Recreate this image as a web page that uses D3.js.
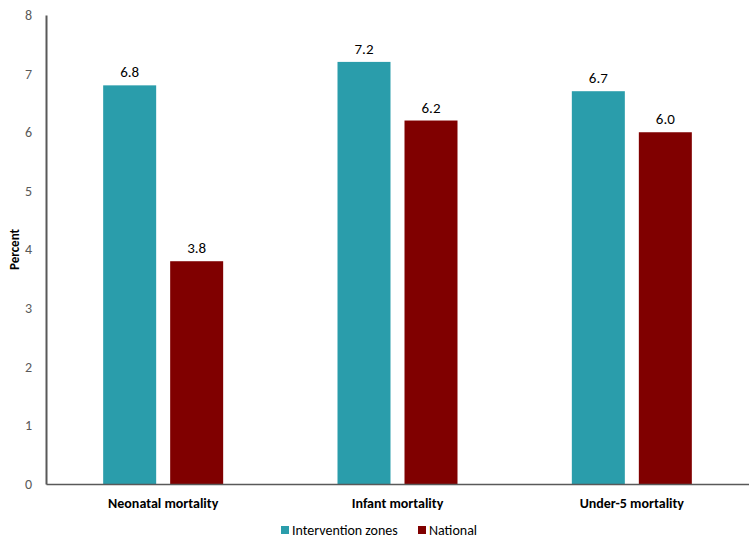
<!DOCTYPE html>
<html>
<head>
<meta charset="utf-8">
<script src="https://cdn.jsdelivr.net/npm/d3@7"></script>
<style>
  body { margin: 0; background: #fff; }
  svg { font-family: Carlito, Calibri, Lato, "Open Sans", sans-serif; }
</style>
</head>
<body>
<svg id="chart" width="749" height="540"></svg>
<script>
const categories = ['Neonatal mortality', 'Infant mortality', 'Under-5 mortality'];
const seriesNames = ['Intervention zones', 'National'];
const interventionValues = [6.8, 7.2, 6.7];
const nationalValues = [3.8, 6.2, 6.0];
const yTicks = [0, 1, 2, 3, 4, 5, 6, 7, 8];
const colors = ['#2a9dab', '#800000'];

const WIDTH = 749, HEIGHT = 540;
const margin = {top: 15, right: 0, bottom: 56, left: 46};
const width = WIDTH - margin.left - margin.right;
const height = HEIGHT - margin.top - margin.bottom;

const svg = d3.select('#chart')
  .append('g')
  .attr('transform', `translate(${margin.left},${margin.top})`);

const x = d3.scaleBand().domain(categories).range([0, width]);
const y = d3.scaleLinear().domain([0, 8]).range([height, 0]);

const barW = 53, gap = 14;
const rows = categories.map((c, i) => ({
  cat: c,
  vals: [interventionValues[i], nationalValues[i]]
}));

// bars
const groups = svg.selectAll('.grp')
  .data(rows)
  .enter().append('g')
  .attr('class', 'grp')
  .attr('transform', d => `translate(${x(d.cat) + x.bandwidth() / 2},0)`);

groups.selectAll('rect')
  .data(d => d.vals)
  .enter().append('rect')
  .attr('x', (d, i) => i === 0 ? -gap / 2 - barW : gap / 2)
  .attr('y', d => y(d))
  .attr('width', barW)
  .attr('height', d => height - y(d))
  .attr('fill', (d, i) => colors[i]);

groups.selectAll('.val')
  .data(d => d.vals)
  .enter().append('text')
  .attr('class', 'val')
  .attr('x', (d, i) => i === 0 ? -gap / 2 - barW / 2 : gap / 2 + barW / 2)
  .attr('y', d => y(d) - 8)
  .attr('text-anchor', 'middle')
  .attr('font-size', 15)
  .attr('fill', '#000')
  .text(d => d.toFixed(1));

// y axis
const yAxis = svg.append('g').call(d3.axisLeft(y).tickValues(yTicks).tickSize(0).tickPadding(14));
yAxis.select('.domain').attr('stroke', '#595959').attr('stroke-width', 2);
yAxis.selectAll('text').attr('font-size', 14).attr('fill', '#595959').attr('font-family', 'Carlito, Calibri, Lato, sans-serif');

// x axis
const xAxis = svg.append('g')
  .attr('transform', `translate(0,${height})`)
  .call(d3.axisBottom(x).tickSize(0).tickPadding(14));
xAxis.select('.domain').attr('stroke', '#595959').attr('stroke-width', 1.5);
xAxis.selectAll('text')
  .attr('font-size', 14)
  .attr('font-weight', 'bold')
  .attr('fill', '#000')
  .attr('font-family', 'Carlito, Calibri, Lato, sans-serif');

// y label
svg.append('text')
  .attr('transform', `translate(${-27},${y(4)}) rotate(-90)`)
  .attr('text-anchor', 'middle')
  .attr('font-size', 13)
  .attr('font-weight', 'bold')
  .text('Percent');

// legend
const legend = d3.select('#chart').append('g')
  .attr('transform', 'translate(281,530)');
const legX = [0, 137];
seriesNames.forEach((name, i) => {
  legend.append('rect')
    .attr('x', legX[i]).attr('y', -4)
    .attr('width', 8).attr('height', 8)
    .attr('fill', colors[i]);
  legend.append('text')
    .attr('x', legX[i] + 11).attr('y', 0)
    .attr('dy', '0.35em')
    .attr('font-size', 14)
    .text(name);
});
</script>
</body>
</html>
